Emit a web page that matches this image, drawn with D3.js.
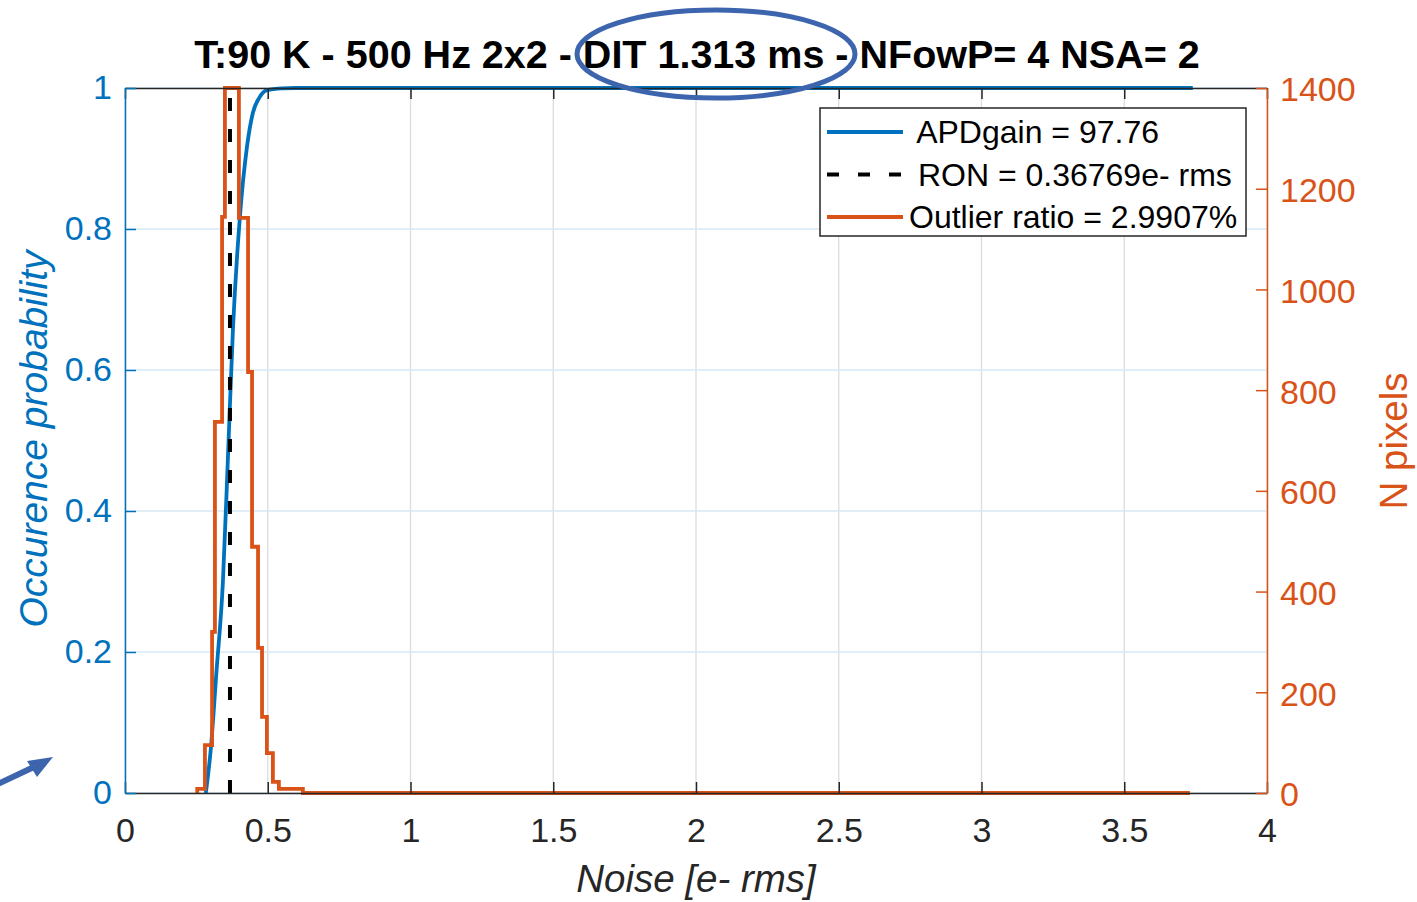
<!DOCTYPE html>
<html>
<head>
<meta charset="utf-8">
<script src="https://cdn.jsdelivr.net/npm/d3@7"></script>
<style>
    body { margin: 0; background: #fff; }
    text { font-family: "Liberation Sans", Arial, Helvetica, sans-serif; }
    .legendText { white-space: pre; }
</style>
</head>
<body>
<div id="chart"></div>
<script>

// ---- data ----
const titleText = "T:90 K - 500 Hz 2x2 - DIT 1.313 ms - NFowP= 4 NSA= 2";

const noiseTicks = [0, 0.5, 1, 1.5, 2, 2.5, 3, 3.5, 4];
const probTicks = [0, 0.2, 0.4, 0.6, 0.8, 1];
const countTicks = [0, 200, 400, 600, 800, 1000, 1200, 1400];

// histogram of pixel noise (bin edges in e- rms, counts in pixels)
const binEdges = [0.253, 0.280, 0.305, 0.315, 0.340, 0.350, 0.399, 0.431, 0.445, 0.466, 0.480, 0.497, 0.518, 0.539, 0.623, 3.73];
const binCounts = [8, 95, 320, 737, 1144, 1400, 1142, 836, 489, 288, 151, 79, 22, 8, 0];

// cumulative occurence probability
const cdfNoise = [0.283, 0.300, 0.320, 0.343, 0.360, 0.378, 0.403, 0.427, 0.448, 0.470, 0.497, 0.550, 0.600, 3.74];
const cdfProb  = [0, 0.06, 0.17, 0.30, 0.47, 0.657, 0.82, 0.916, 0.965, 0.986, 0.997, 0.9995, 1, 1];

const ronValue = 0.36769;

const legendLabels = [" APDgain = 97.76", " RON = 0.36769e- rms", "Outlier ratio = 2.9907%"];

class NoiseChart {

    constructor(_element){
        this.element = _element;
        this.init();
    }

    init(){
        let dv = this;

        dv.margin = { top: 88, right: 150, bottom: 109, left: 125 };
        dv.width = 1417 - dv.margin.left - dv.margin.right;
        dv.height = 902 - dv.margin.top - dv.margin.bottom;

        dv.blue = "#0072BD";
        dv.orange = "#D95319";
        dv.dark = "#262626";

        dv.svg = d3.select(dv.element)
            .append("svg")
            .attr("width", 1417)
            .attr("height", 902);

        dv.g = dv.svg.append("g")
            .attr("transform", "translate(" + dv.margin.left + "," + dv.margin.top + ")");

        dv.x = d3.scaleLinear().domain([0, 4]).range([0, dv.width]);
        dv.yProb = d3.scaleLinear().domain([0, 1]).range([dv.height, 0]);
        dv.yCount = d3.scaleLinear().domain([0, 1400]).range([dv.height, 0]);

        dv.drawGrid();
        dv.drawLines();
        dv.drawAxes();
        dv.addLegend();
        dv.addNotes();
    }

    drawGrid(){
        let dv = this;

        dv.g.append("g")
            .selectAll("line")
            .data(noiseTicks)
            .enter().append("line")
            .attr("x1", d => dv.x(d)).attr("x2", d => dv.x(d))
            .attr("y1", 0).attr("y2", dv.height)
            .attr("stroke", "#dcdcdc")
            .attr("stroke-width", 1.3);

        dv.g.append("g")
            .selectAll("line")
            .data(probTicks)
            .enter().append("line")
            .attr("x1", 0).attr("x2", dv.width)
            .attr("y1", d => dv.yProb(d)).attr("y2", d => dv.yProb(d))
            .attr("stroke", "#d6e8f4")
            .attr("stroke-width", 1.3);
    }

    drawLines(){
        let dv = this;

        // cumulative curve
        let cdf = cdfNoise.map((d, i) => ({ x: d, y: cdfProb[i] }));
        dv.g.append("path")
            .datum(cdf)
            .attr("fill", "none")
            .attr("stroke", dv.blue)
            .attr("stroke-width", 3.8)
            .attr("d", d3.line()
                .x(d => dv.x(d.x))
                .y(d => dv.yProb(d.y))
                .curve(d3.curveMonotoneX));

        // RON marker
        dv.g.append("line")
            .attr("x1", dv.x(ronValue)).attr("x2", dv.x(ronValue))
            .attr("y1", dv.yProb(0)).attr("y2", dv.yProb(1))
            .attr("stroke", "#000")
            .attr("stroke-width", 4)
            .attr("stroke-dasharray", "13,18");

        // histogram as stairs
        let steps = [{ x: binEdges[0], y: 0 }];
        binCounts.forEach((c, i) => steps.push({ x: binEdges[i], y: c }));
        steps.push({ x: binEdges[binEdges.length - 1], y: 0 });

        dv.g.append("path")
            .datum(steps)
            .attr("fill", "none")
            .attr("stroke", dv.orange)
            .attr("stroke-width", 3.8)
            .attr("d", d3.line()
                .x(d => dv.x(d.x))
                .y(d => dv.yCount(d.y))
                .curve(d3.curveStepAfter));
    }

    drawAxes(){
        let dv = this;
        const fs = "34px";

        let xAxis = dv.g.append("g")
            .attr("transform", "translate(0," + dv.height + ")")
            .attr("color", dv.dark)
            .call(d3.axisBottom(dv.x).tickValues(noiseTicks).tickSize(-11).tickSizeOuter(0).tickPadding(25)
                .tickFormat(d3.format("")));
        xAxis.selectAll("text").style("font-size", fs).attr("fill", dv.dark);

        dv.g.append("g")
            .attr("color", dv.dark)
            .call(d3.axisTop(dv.x).tickValues(noiseTicks).tickSize(-11).tickSizeOuter(0).tickFormat(""));

        let yAxis = dv.g.append("g")
            .attr("color", dv.blue)
            .call(d3.axisLeft(dv.yProb).tickValues(probTicks).tickSize(-11).tickSizeOuter(0).tickPadding(13)
                .tickFormat(d3.format("")));
        yAxis.selectAll("text").style("font-size", fs);

        let y2Axis = dv.g.append("g")
            .attr("transform", "translate(" + dv.width + ",0)")
            .attr("color", dv.orange)
            .call(d3.axisRight(dv.yCount).tickValues(countTicks).tickSize(-11).tickSizeOuter(0).tickPadding(13)
                .tickFormat(d3.format("d")));
        y2Axis.selectAll("text").style("font-size", fs).attr("dy", "0.38em");

        dv.svg.selectAll(".domain, .tick line").attr("stroke-width", 1.5);

        // titles
        dv.svg.append("text")
            .attr("x", dv.margin.left + dv.width / 2 + 1)
            .attr("y", 68)
            .attr("text-anchor", "middle")
            .style("font-size", "39.5px")
            .style("font-weight", "bold")
            .attr("fill", "#000")
            .text(titleText);

        dv.svg.append("text")
            .attr("x", dv.margin.left + dv.width / 2)
            .attr("y", 892)
            .attr("text-anchor", "middle")
            .style("font-size", "38.5px")
            .style("font-style", "italic")
            .attr("fill", dv.dark)
            .text("Noise [e- rms]");

        dv.svg.append("text")
            .attr("transform", "rotate(-90)")
            .attr("x", -439)
            .attr("y", 47)
            .attr("text-anchor", "middle")
            .style("font-size", "39px")
            .style("font-style", "italic")
            .attr("fill", dv.blue)
            .text("Occurence probability");

        dv.svg.append("text")
            .attr("transform", "rotate(-90)")
            .attr("x", -441)
            .attr("y", 1407)
            .attr("text-anchor", "middle")
            .style("font-size", "38.5px")
            .attr("fill", dv.orange)
            .text("N pixels");
    }

    addLegend(){
        let dv = this;

        let legend = dv.svg.append("g")
            .attr("transform", "translate(820,108)");

        legend.append("rect")
            .attr("width", 426)
            .attr("height", 128)
            .attr("fill", "#fff")
            .attr("stroke", dv.dark)
            .attr("stroke-width", 1.5);

        let styles = [
            { colour: dv.blue, dash: null },
            { colour: "#000", dash: "12,19" },
            { colour: dv.orange, dash: null }
        ];

        let rows = legend.selectAll(".legend")
            .data(legendLabels)
            .enter().append("g")
            .attr("class", "legend")
            .attr("transform", (d, i) => "translate(0," + (24 + i * 42.5) + ")");

        rows.append("line")
            .attr("x1", 7).attr("x2", 83)
            .attr("stroke", (d, i) => styles[i].colour)
            .attr("stroke-width", (d, i) => i === 1 ? 4 : 3.8)
            .attr("stroke-dasharray", (d, i) => styles[i].dash);

        rows.append("text")
            .attr("class", "legendText")
            .attr("x", 89)
            .attr("dy", "0.35em")
            .style("font-size", "32px")
            .attr("fill", "#000")
            .text(d => d);
    }

    addNotes(){
        let dv = this;
        const noteColour = "#3D65AE";

        // hand drawn ellipse round the DIT value
        dv.svg.append("ellipse")
            .attr("cx", 716).attr("cy", 54)
            .attr("rx", 139).attr("ry", 44)
            .attr("fill", "none")
            .attr("stroke", noteColour)
            .attr("stroke-width", 5);

        // arrow in the lower left corner
        dv.svg.append("line")
            .attr("x1", -2).attr("y1", 784)
            .attr("x2", 36).attr("y2", 766)
            .attr("stroke", noteColour)
            .attr("stroke-width", 6);

        dv.svg.append("polygon")
            .attr("points", "53,757 27,761 37,777")
            .attr("fill", noteColour);
    }
}

new NoiseChart("#chart");
</script>
</body>
</html>
